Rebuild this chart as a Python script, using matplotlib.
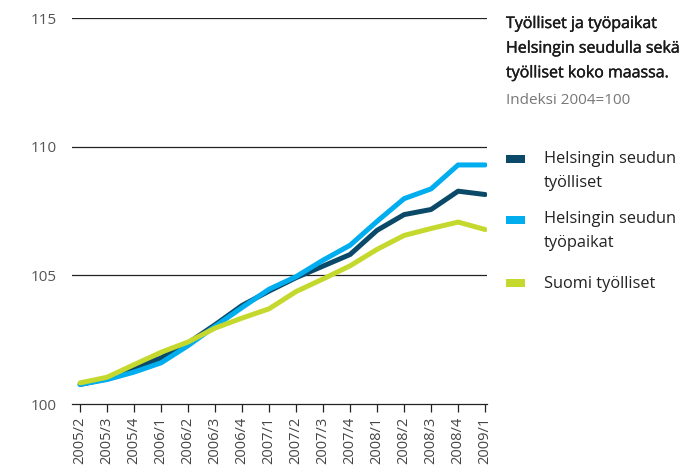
import matplotlib
matplotlib.use("Agg")
import matplotlib.pyplot as plt
import matplotlib.patheffects as pe
from matplotlib.patches import Rectangle

plt.rcParams['font.family'] = ['Open Sans', 'DejaVu Sans']

quarters = ["2005/2", "2005/3", "2005/4", "2006/1", "2006/2", "2006/3", "2006/4",
            "2007/1", "2007/2", "2007/3", "2007/4", "2008/1", "2008/2", "2008/3",
            "2008/4", "2009/1"]
hki_tyolliset = [100.76, 100.98, 101.40, 101.79, 102.37, 103.08, 103.83, 104.39,
                 104.91, 105.36, 105.81, 106.75, 107.36, 107.56, 108.27, 108.14]
hki_tyopaikat = [100.76, 100.95, 101.24, 101.60, 102.27, 103.02, 103.75, 104.46,
                 104.95, 105.59, 106.17, 107.10, 107.98, 108.36, 109.29, 109.29]
suomi_tyolliset = [100.82, 101.04, 101.53, 102.01, 102.41, 102.95, 103.34, 103.70,
                   104.37, 104.86, 105.37, 106.01, 106.55, 106.82, 107.07, 106.78]
series_names = ["Helsingin seudun\ntyölliset", "Helsingin seudun\ntyöpaikat", "Suomi työlliset"]
colors = ["#0a4a68", "#00aeef", "#c5d82e"]
yticks = [100, 105, 110, 115]
title = "Työlliset ja työpaikat\nHelsingin seudulla sekä\ntyölliset koko maassa."
subtitle = "Indeksi 2004=100"

W, H = 687, 475
fig = plt.figure(figsize=(W / 100, H / 100), dpi=100)
ax = fig.add_axes([72 / W, 1 - 404 / H, 415 / W, 386 / H])

x = list(range(len(quarters)))
ax.plot(x, hki_tyolliset, color=colors[0], lw=3.6, solid_capstyle='round', zorder=3)
ax.plot(x, hki_tyopaikat, color=colors[1], lw=3.6, solid_capstyle='round', zorder=4)
ax.plot(x, suomi_tyolliset, color=colors[2], lw=3.6, solid_capstyle='round', zorder=5)

ax.set_ylim(100, 115)
ax.set_xlim(-0.3, 15.07)
ax.set_yticks(yticks)
ax.set_yticklabels([str(v) for v in yticks], color="#555555", fontsize=11)
ax.set_xticks(x)
ax.set_xticklabels(quarters, rotation=90, fontsize=10.5, color="#444444")
ax.tick_params(axis='y', length=0, pad=11)
ax.tick_params(axis='x', length=6, width=0.9, color="#222222", pad=3)
for s in ["left", "right", "top"]:
    ax.spines[s].set_visible(False)
ax.spines["bottom"].set_color("#222222")
ax.spines["bottom"].set_linewidth(0.9)
for v in yticks[1:]:
    ax.axhline(v, color="#222222", lw=0.9, zorder=1)

fig.text(506 / W, 1 - 16 / H, title, ha='left', va='top', fontsize=11.5,
         color="#1a1a1a", linespacing=1.72,
         path_effects=[pe.withStroke(linewidth=0.3, foreground="#1a1a1a")])
fig.text(506 / W, 1 - 100 / H, subtitle, ha='left', va='center', fontsize=11,
         color="#777777")

leg_y = [159, 220, 283]
text_y = [171, 231, 284]
for name, c, ly, ty in zip(series_names, colors, leg_y, text_y):
    fig.add_artist(Rectangle((506 / W, 1 - (ly + 4) / H), 19 / W, 8 / H,
                             transform=fig.transFigure, color=c, lw=0))
    fig.text(544 / W, 1 - ty / H, name, ha='left', va='center', fontsize=11.8,
             color="#222222", linespacing=1.72)

fig.savefig("out.png", dpi=100)
